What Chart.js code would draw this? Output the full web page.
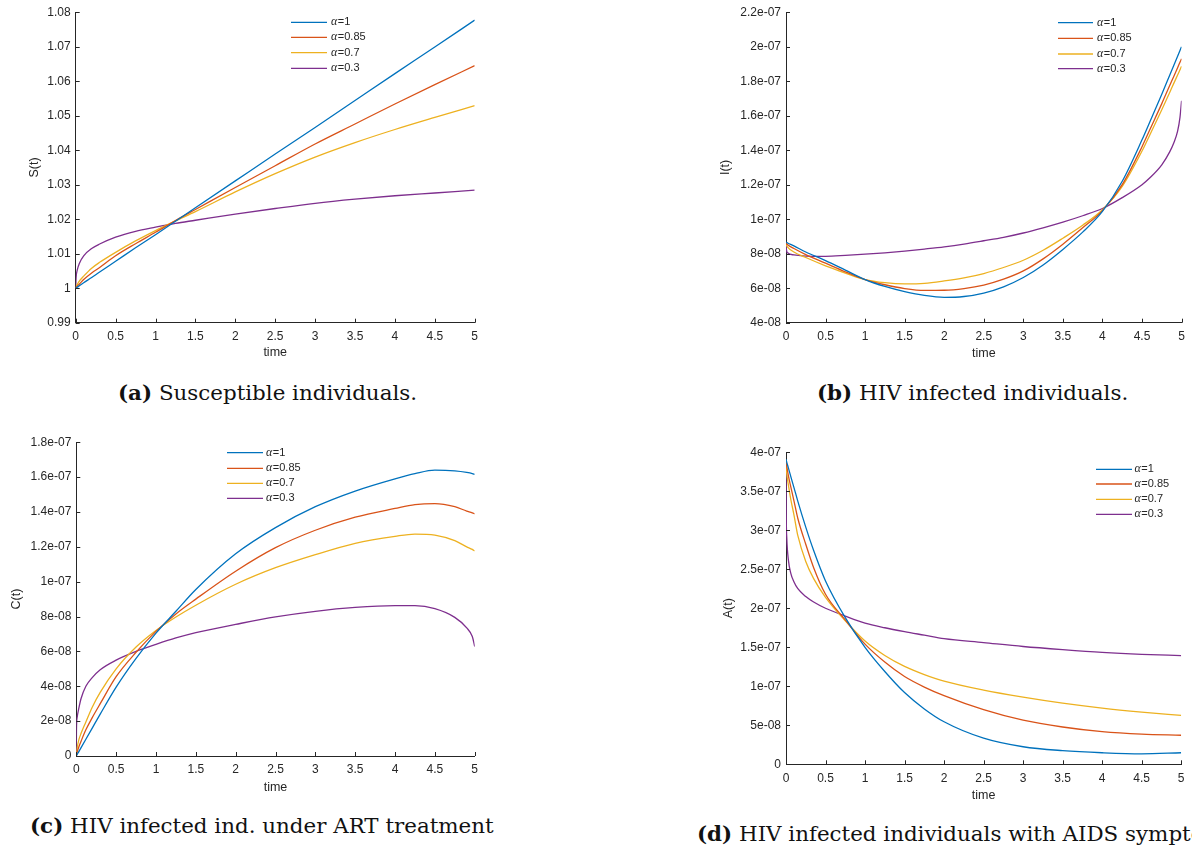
<!DOCTYPE html>
<html>
<head>
<meta charset="utf-8">
<title>Fractional HIV/AIDS model, order alpha</title>
<script src="https://cdn.jsdelivr.net/npm/chart.js@4.4.1/dist/chart.umd.min.js"></script>
<style>
  html, body { margin: 0; padding: 0; background: #fff; }
  body { width: 1192px; height: 852px; position: relative; overflow: hidden; }
  canvas { position: absolute; }
  .caption { position: absolute; font-family: 'DejaVu Serif', serif; font-size: 19.5px; color: #111; white-space: nowrap; line-height: 24px; transform-origin: 0 50%; }
</style>
</head>
<body>
<canvas id="chartS"></canvas>
<canvas id="chartI"></canvas>
<canvas id="chartC"></canvas>
<canvas id="chartA"></canvas>
<div class="caption" id="capA" style="left:118px; top:382px;"><b>(a)</b> Susceptible individuals.</div>
<div class="caption" id="capB" style="left:817px; top:382px;"><b>(b)</b> HIV infected individuals.</div>
<div class="caption" id="capC" style="left:30px; top:815px;"><b>(c)</b> HIV infected ind. under ART treatment</div>
<div class="caption" id="capD" style="left:697px; top:823px;"><b>(d)</b> HIV infected individuals with AIDS symptoms.</div>
<script>
const AXIS = '#262626';
const colors = ['#0072BD', '#D95319', '#EDB120', '#7E2F8E'];
const alphaLabels = ['1', '0.85', '0.7', '0.3'];

// (a) S(t)
const tS = [0, 0.005, 0.02, 0.05, 0.1, 0.2, 0.3, 0.5, 0.75, 1, 1.25, 1.5, 2, 2.5, 3, 3.5, 4, 4.5, 5];
const sAlpha1   = [1, 1.0001, 1.0003, 1.0008, 1.0016, 1.0031, 1.0047, 1.0078, 1.0117, 1.0155, 1.0194, 1.0233, 1.0311, 1.0389, 1.0466, 1.0544, 1.0622, 1.0699, 1.0777];
const sAlpha085 = [1, 1.0002, 1.0006, 1.0013, 1.0025, 1.0044, 1.0060, 1.0094, 1.0129, 1.0162, 1.0196, 1.0228, 1.0292, 1.0355, 1.0418, 1.0476, 1.0534, 1.0590, 1.0645];
const sAlpha07  = [1, 1.0004, 1.0011, 1.0022, 1.0035, 1.0058, 1.0075, 1.0104, 1.0137, 1.0167, 1.0195, 1.0222, 1.0279, 1.0332, 1.0380, 1.0422, 1.0460, 1.0495, 1.0529];
const sAlpha03  = [1, 1.0030, 1.0053, 1.0074, 1.0094, 1.0115, 1.0128, 1.0148, 1.0165, 1.0177, 1.0188, 1.0197, 1.0215, 1.0231, 1.0246, 1.0258, 1.0268, 1.0276, 1.0284];

// (b) I(t), values in units of 1e-8
const tI = [0, 0.005, 0.02, 0.1, 0.25, 0.5, 0.75, 1, 1.25, 1.5, 1.75, 2, 2.25, 2.5, 2.75, 3, 3.25, 3.5, 3.75, 4, 4.25, 4.5, 4.6, 4.75, 4.85, 4.9, 4.95, 4.98, 5];
const iAlpha1   = [8.68, 8.66, 8.62, 8.45, 8.1, 7.6, 7.05, 6.5, 6.1, 5.8, 5.58, 5.47, 5.52, 5.72, 6.08, 6.62, 7.35, 8.25, 9.25, 10.45, 12.2, 14.6, 15.65, 17.25, 18.35, 18.9, 19.45, 19.78, 20.0];
const iAlpha085 = [8.65, 8.6, 8.52, 8.3, 7.95, 7.45, 6.95, 6.5, 6.2, 5.98, 5.87, 5.88, 5.98, 6.18, 6.52, 7.0, 7.7, 8.55, 9.5, 10.5, 12.0, 14.2, 15.2, 16.7, 17.75, 18.26, 18.78, 19.1, 19.3];
const iAlpha07  = [8.6, 8.5, 8.38, 8.1, 7.78, 7.3, 6.88, 6.5, 6.32, 6.25, 6.28, 6.42, 6.6, 6.85, 7.2, 7.62, 8.2, 8.9, 9.65, 10.55, 11.9, 13.95, 14.9, 16.35, 17.35, 17.86, 18.36, 18.66, 18.86];
const iAlpha03  = [8.65, 8.25, 8.05, 7.93, 7.86, 7.85, 7.9, 7.97, 8.05, 8.15, 8.27, 8.4, 8.56, 8.75, 8.95, 9.2, 9.5, 9.83, 10.2, 10.62, 11.25, 12.0, 12.4, 13.15, 13.9, 14.4, 15.1, 15.9, 16.87];

// (c) C(t), values in units of 1e-8
const tC = [0, 0.002, 0.01, 0.03, 0.06, 0.12, 0.2, 0.3, 0.5, 0.75, 1, 1.25, 1.5, 2, 2.5, 3, 3.5, 4, 4.25, 4.5, 4.75, 4.9, 4.97, 5];
const cAlpha1   = [0, 0.02, 0.08, 0.24, 0.48, 0.96, 1.6, 2.4, 3.95, 5.6, 7.05, 8.3, 9.55, 11.6, 13.1, 14.3, 15.2, 15.9, 16.2, 16.4, 16.36, 16.27, 16.2, 16.15];
const cAlpha085 = [0, 0.05, 0.2, 0.5, 0.85, 1.5, 2.2, 3.0, 4.55, 5.95, 7.15, 8.15, 9.0, 10.6, 11.95, 12.95, 13.7, 14.2, 14.42, 14.48, 14.3, 14.05, 13.95, 13.89];
const cAlpha07  = [0, 0.15, 0.45, 0.9, 1.3, 1.95, 2.8, 3.65, 5.0, 6.25, 7.2, 7.97, 8.65, 9.85, 10.8, 11.55, 12.2, 12.6, 12.73, 12.67, 12.35, 12.0, 11.85, 11.76];
const cAlpha03  = [0, 1.5, 2.2, 2.7, 3.3, 4.0, 4.5, 4.95, 5.5, 6.0, 6.4, 6.77, 7.08, 7.55, 7.98, 8.3, 8.52, 8.62, 8.62, 8.45, 7.95, 7.35, 6.85, 6.28];

// (d) A(t), values in units of 1e-7
const tA = [0, 0.002, 0.01, 0.03, 0.06, 0.1, 0.15, 0.25, 0.35, 0.5, 0.75, 1, 1.25, 1.5, 1.75, 2, 2.5, 3, 3.5, 4, 4.5, 5];
const aAlpha1   = [3.91, 3.9, 3.87, 3.8, 3.69, 3.55, 3.37, 3.04, 2.74, 2.35, 1.88, 1.50, 1.19, 0.92, 0.71, 0.545, 0.335, 0.225, 0.175, 0.148, 0.134, 0.148];
const aAlpha085 = [3.9, 3.88, 3.82, 3.7, 3.56, 3.38, 3.15, 2.82, 2.52, 2.18, 1.85, 1.54, 1.31, 1.125, 0.99, 0.88, 0.70, 0.565, 0.478, 0.418, 0.386, 0.372];
const aAlpha07  = [3.88, 3.82, 3.72, 3.58, 3.4, 3.2, 2.93, 2.6, 2.38, 2.14, 1.84, 1.58, 1.395, 1.255, 1.15, 1.065, 0.95, 0.86, 0.783, 0.72, 0.669, 0.626];
const aAlpha03  = [3.9, 3.3, 2.9, 2.62, 2.45, 2.34, 2.25, 2.15, 2.08, 2.0, 1.9, 1.81, 1.75, 1.70, 1.655, 1.61, 1.56, 1.51, 1.47, 1.435, 1.41, 1.393];

// matlab style tick labels: 1e-07, 2.2e-07, 8e-08
function fmtE(v) {
  if (Math.abs(v) < 1e-20) return '0';
  let e = Math.floor(Math.log10(Math.abs(v)) + 1e-9);
  let m = parseFloat((v / Math.pow(10, e)).toFixed(3));
  if (m >= 10) { m = m / 10; e++; }
  return m + 'e' + (e < 0 ? '-' : '+') + String(Math.abs(e)).padStart(2, '0');
}
function fmtPlain(v) {
  return String(parseFloat(v.toFixed(4)));
}

// ticks point inward like matlab axes
const inwardTicks = {
  id: 'inwardTicks',
  afterDatasetsDraw(chart) {
    const {ctx, chartArea: a, scales: {x, y}} = chart;
    ctx.save();
    ctx.strokeStyle = AXIS;
    ctx.lineWidth = 1;
    ctx.beginPath();
    x.ticks.forEach(t => {
      const px = Math.round(x.getPixelForValue(t.value)) + 0.5;
      ctx.moveTo(px, a.bottom);
      ctx.lineTo(px, a.bottom - 4);
    });
    y.ticks.forEach(t => {
      const py = Math.round(y.getPixelForValue(t.value)) + 0.5;
      ctx.moveTo(a.left, py);
      ctx.lineTo(a.left + 4, py);
    });
    ctx.stroke();
    ctx.restore();
  }
};

// boxless legend with italic alpha
const alphaLegend = {
  id: 'alphaLegend',
  afterDraw(chart, args, opts) {
    const {ctx} = chart;
    ctx.save();
    ctx.textBaseline = 'middle';
    ctx.textAlign = 'left';
    chart.data.datasets.forEach((ds, i) => {
      const y = opts.rows[i];
      ctx.strokeStyle = ds.borderColor;
      ctx.lineWidth = 1.3;
      ctx.beginPath();
      ctx.moveTo(opts.x0, y);
      ctx.lineTo(opts.x1, y);
      ctx.stroke();
      ctx.fillStyle = AXIS;
      ctx.font = 'italic 12px "Liberation Serif"';
      ctx.fillText('α', opts.tx, y);
      const w = ctx.measureText('α').width;
      ctx.font = '11px "Liberation Sans"';
      ctx.fillText(ds.label.slice(1), opts.tx + w + 0.5, y);
    });
    ctx.restore();
  }
};

function buildChart(id, cfg) {
  const canvas = document.getElementById(id);
  const b = cfg.box, a = cfg.area;
  canvas.width = b.w;
  canvas.height = b.h;
  canvas.style.left = b.left + 'px';
  canvas.style.top = b.top + 'px';
  canvas.style.width = b.w + 'px';
  canvas.style.height = b.h + 'px';

  const yWidth = a.l - b.left;
  const xHeight = b.top + b.h - a.b;
  const tickFont = { family: 'Liberation Sans', size: 12 };
  const titleFont = { family: 'Liberation Sans', size: 12.5 };

  new Chart(canvas, {
    type: 'line',
    data: {
      datasets: cfg.series.map((vals, i) => ({
        label: 'α=' + alphaLabels[i],
        data: cfg.t.map((x, j) => ({ x: x, y: vals[j] * cfg.scale })),
        borderColor: colors[i],
        borderWidth: 1.3,
        pointRadius: 0,
        fill: false,
        cubicInterpolationMode: 'monotone'
      }))
    },
    options: {
      responsive: false,
      animation: false,
      layout: { padding: { left: 0, top: a.t - b.top, right: b.left + b.w - a.r, bottom: 0 } },
      plugins: {
        legend: { display: false },
        tooltip: { enabled: false },
        alphaLegend: {
          x0: cfg.legend.x0 - b.left, x1: cfg.legend.x1 - b.left, tx: cfg.legend.tx - b.left,
          rows: cfg.legend.rows.map(r => r - b.top)
        }
      },
      scales: {
        x: {
          type: 'linear', min: 0, max: 5,
          grid: { display: false, drawTicks: false },
          border: { display: true, color: AXIS, width: 1 },
          ticks: {
            stepSize: 0.5, maxRotation: 0, autoSkip: false,
            font: tickFont, color: AXIS, padding: cfg.xTickY - a.b - 7.2,
            callback: v => fmtPlain(v)
          },
          title: {
            display: true, text: 'time', font: titleFont, color: AXIS,
            padding: { top: 0, bottom: b.top + b.h - cfg.xTitleY - 7.5 }
          },
          afterFit: s => { s.height = xHeight; }
        },
        y: {
          type: 'linear', min: cfg.yMin, max: cfg.yMax,
          grid: { display: false, drawTicks: false },
          border: { display: true, color: AXIS, width: 1 },
          ticks: {
            stepSize: cfg.yStep, autoSkip: false,
            font: tickFont, color: AXIS, padding: 5,
            callback: cfg.yFmt
          },
          title: {
            display: true, text: cfg.yTitle, font: titleFont, color: AXIS,
            padding: { top: cfg.yTitleX - b.left - 7.5, bottom: 0 }
          },
          afterFit: s => { s.width = yWidth; }
        }
      }
    },
    plugins: [inwardTicks, alphaLegend]
  });
}

buildChart('chartS', {
  box: { left: 0, top: 0, w: 495, h: 372 },
  area: { l: 75.7, t: 6.7, r: 474.7, b: 322.7 },
  t: tS, series: [sAlpha1, sAlpha085, sAlpha07, sAlpha03], scale: 1,
  yMin: 0.99, yMax: 1.08, yStep: 0.01, yFmt: v => fmtPlain(v), yTitle: 'S(t)',
  yTitleX: 35, xTickY: 337, xTitleY: 353,
  legend: { x0: 291, x1: 327, tx: 331, rows: [22.3, 37.3, 52.7, 68.3] }
});

buildChart('chartI', {
  box: { left: 700, top: 0, w: 492, h: 372 },
  area: { l: 786, t: 6.7, r: 1184, b: 322.7 },
  t: tI, series: [iAlpha1, iAlpha085, iAlpha07, iAlpha03], scale: 1e-8,
  yMin: 4e-8, yMax: 2.2e-7, yStep: 2e-8, yFmt: v => fmtE(v), yTitle: 'I(t)',
  yTitleX: 726, xTickY: 337, xTitleY: 353.3,
  legend: { x0: 1058, x1: 1093, tx: 1097, rows: [22.7, 38.3, 54, 68.7] }
});

buildChart('chartC', {
  box: { left: 0, top: 430, w: 495, h: 375 },
  area: { l: 76.3, t: 440.7, r: 474.7, b: 756 },
  t: tC, series: [cAlpha1, cAlpha085, cAlpha07, cAlpha03], scale: 1e-8,
  yMin: 0, yMax: 1.8e-7, yStep: 2e-8, yFmt: v => fmtE(v), yTitle: 'C(t)',
  yTitleX: 16.7, xTickY: 770, xTitleY: 787.7,
  legend: { x0: 227, x1: 263, tx: 266, rows: [452.7, 468.3, 483.3, 498.3] }
});

buildChart('chartA', {
  box: { left: 700, top: 440, w: 492, h: 375 },
  area: { l: 786, t: 449.3, r: 1184, b: 764.3 },
  t: tA, series: [aAlpha1, aAlpha085, aAlpha07, aAlpha03], scale: 1e-7,
  yMin: 0, yMax: 4e-7, yStep: 5e-8, yFmt: v => fmtE(v), yTitle: 'A(t)',
  yTitleX: 728.3, xTickY: 779, xTitleY: 795.7,
  legend: { x0: 1096, x1: 1132, tx: 1134.5, rows: [469.3, 484, 499.3, 514.3] }
});

// stretch captions so their width matches the wide LaTeX serif of the original
function fitCaptions() {
  const a = document.getElementById('capA');
  const b = document.getElementById('capB');
  const k = (295 / a.offsetWidth + 316 / b.offsetWidth) / 2;
  document.querySelectorAll('.caption').forEach(el => {
    el.style.transform = 'scaleX(' + k.toFixed(3) + ')';
  });
}
fitCaptions();
if (document.fonts && document.fonts.ready) document.fonts.ready.then(fitCaptions);
</script>
</body>
</html>
